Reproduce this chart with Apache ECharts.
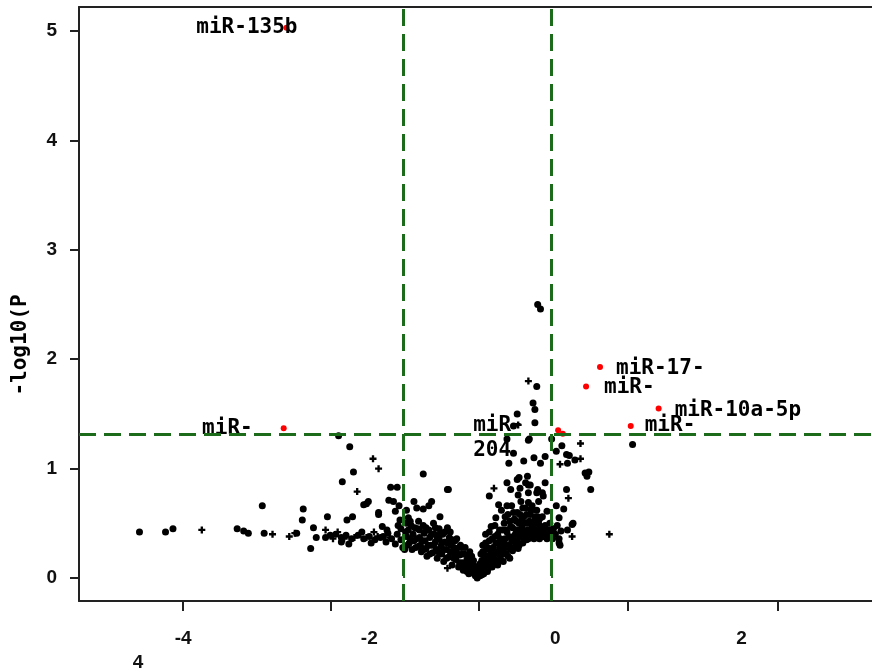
<!DOCTYPE html>
<html>
<head>
<meta charset="utf-8">
<script src="https://cdn.jsdelivr.net/npm/echarts@6/dist/echarts.min.js"></script>
<style>
html, body { margin: 0; padding: 0; background: #fff; }
#main { width: 872px; height: 672px; }
</style>
</head>
<body>
<div id="main"></div>
<script>
// axis ticks and labels
var xLabelValues = [-4, -2, 0, 2];
var xTickValues = [-4, -2.41, -0.82, 0.78, 2.39];
var yTickValues = [0, 1, 2, 3, 4, 5];
// cut-off lines
var cutX = [-1.63, -0.04];
var cutY = 1.31;

// not significant, drawn as dots
var dotPoints = [
  [-4.47,0.42],[-4.19,0.42],[-4.11,0.45],[-3.42,0.45],[-3.35,0.43],[-3.30,0.41],[-3.15,0.66],[-3.13,0.41],
  [-2.78,0.41],[-2.71,0.63],[-2.72,0.53],[-2.63,0.27],[-2.60,0.46],[-2.57,0.37],[-2.45,0.56],[-2.47,0.37],
  [-2.33,1.30],[-2.21,1.20],[-2.17,0.97],[-2.29,0.88],[-2.24,0.53],[-2.18,0.56],[-2.06,0.67],[-2.03,0.68],
  [-2.01,0.70],[-1.90,0.58],[-1.90,0.60],[-1.77,0.83],[-1.70,0.83],[-1.79,0.71],[-1.74,0.70],[-1.68,0.66],
  [-1.72,0.61],[-1.67,0.53],[-1.86,0.47],[-1.81,0.44],[-1.85,0.38],[-1.66,0.45],[-1.69,0.48],
  [-2.42,0.39],[-2.36,0.40],[-2.30,0.37],[-2.30,0.33],[-2.25,0.39],[-2.19,0.36],[-2.12,0.39],[-2.06,0.36],
  [-2.00,0.38],[-1.94,0.35],[-1.88,0.37],[-1.82,0.33],[-1.76,0.36],[-1.72,0.31],[-1.70,0.40],[-1.66,0.35],
  [-1.64,0.28],[-1.98,0.32],[-2.08,0.42],[-1.80,0.41],[-2.22,0.31],
  [-1.42,0.95],[-1.15,0.81],[-1.52,0.70],[-1.49,0.64],[-1.42,0.63],[-1.36,0.66],[-1.33,0.70],[-1.24,0.56],
  [-1.60,0.62],[-1.58,0.55],
  [-1.60,0.50],[-1.58,0.44],[-1.60,0.38],[-1.57,0.32],[-1.62,0.26],[-1.55,0.48],[-1.53,0.40],[-1.52,0.34],
  [-1.50,0.28],[-1.48,0.45],[-1.47,0.52],[-1.46,0.37],[-1.45,0.30],[-1.44,0.24],
  [-1.42,0.48],[-1.41,0.41],[-1.40,0.34],[-1.39,0.27],[-1.38,0.20],[-1.36,0.44],[-1.35,0.37],[-1.34,0.30],
  [-1.32,0.23],[-1.31,0.50],[-1.30,0.40],[-1.29,0.33],[-1.28,0.26],[-1.27,0.18],[-1.25,0.45],[-1.25,0.36],
  [-1.23,0.29],[-1.22,0.22],[-1.21,0.40],[-1.20,0.15],[-1.19,0.33],[-1.17,0.26],[-1.16,0.46],[-1.15,0.19],
  [-1.14,0.37],[-1.12,0.30],[-1.11,0.12],[-1.10,0.23],[-1.08,0.34],[-1.07,0.17],[-1.06,0.27],[-1.04,0.10],
  [-1.03,0.21],
  [-1.01,0.28],[-1.00,0.14],[-0.99,0.07],[-0.98,0.22],[-0.96,0.10],[-0.95,0.17],[-0.93,0.04],[-0.92,0.24],
  [-0.91,0.12],[-0.89,0.06],[-0.88,0.16],[-0.86,0.02],[-0.85,0.09],[-0.84,0.00],
  [-1.61,0.42],[-1.59,0.30],[-1.56,0.52],[-1.56,0.36],[-1.54,0.26],[-1.51,0.46],[-1.49,0.36],[-1.47,0.29],
  [-1.46,0.44],[-1.43,0.34],[-1.41,0.26],[-1.39,0.46],[-1.37,0.30],[-1.35,0.22],[-1.33,0.40],[-1.31,0.30],
  [-1.29,0.46],[-1.27,0.36],[-1.26,0.24],[-1.24,0.40],[-1.22,0.32],[-1.20,0.26],[-1.19,0.42],[-1.17,0.18],
  [-1.16,0.32],[-1.13,0.24],[-1.13,0.42],[-1.11,0.35],[-1.09,0.18],[-1.09,0.28],[-1.06,0.36],[-1.05,0.22],
  [-1.03,0.14],[-1.02,0.30],[-1.00,0.22],[-0.98,0.12],[-0.97,0.28],[-0.95,0.06],[-0.94,0.20],[-0.92,0.14],
  [-0.90,0.09],[-0.90,0.20],[-0.87,0.11],[-0.87,0.04],[-0.83,0.09],
  [-0.82,0.05],[-0.81,0.13],[-0.80,0.22],[-0.79,0.03],[-0.78,0.30],[-0.77,0.10],[-0.76,0.18],[-0.75,0.40],
  [-0.74,0.26],[-0.73,0.06],[-0.72,0.14],[-0.71,0.34],[-0.70,0.21],[-0.69,0.47],[-0.68,0.10],[-0.67,0.28],
  [-0.66,0.17],[-0.65,0.38],[-0.64,0.55],[-0.63,0.24],[-0.62,0.12],[-0.61,0.32],[-0.60,0.44],
  [-0.81,0.02],[-0.80,0.08],[-0.79,0.16],[-0.78,0.24],[-0.77,0.04],[-0.76,0.12],[-0.75,0.32],[-0.74,0.20],
  [-0.73,0.28],[-0.72,0.09],[-0.71,0.42],[-0.70,0.16],[-0.69,0.26],[-0.68,0.36],[-0.67,0.13],[-0.66,0.22],
  [-0.65,0.48],[-0.64,0.32],[-0.63,0.16],[-0.62,0.40],[-0.61,0.22],[-0.60,0.28],
  [-0.59,0.20],[-0.58,0.62],[-0.57,0.28],[-0.56,0.15],[-0.55,0.50],[-0.54,0.36],[-0.53,0.22],[-0.52,0.42],
  [-0.51,0.58],[-0.50,0.30],[-0.49,0.18],[-0.48,0.47],[-0.47,0.66],[-0.46,0.25],[-0.45,0.38],[-0.44,0.54],
  [-0.43,0.32],[-0.42,0.44],[-0.41,0.60],[-0.40,0.27],[-0.39,0.50],[-0.38,0.38],[-0.37,0.70],[-0.36,0.46],
  [-0.35,0.32],
  [-0.59,0.36],[-0.58,0.16],[-0.57,0.44],[-0.56,0.24],[-0.55,0.32],[-0.54,0.56],[-0.53,0.44],[-0.52,0.28],
  [-0.51,0.20],[-0.50,0.38],[-0.49,0.52],[-0.48,0.26],[-0.47,0.34],[-0.46,0.46],[-0.45,0.60],[-0.44,0.28],
  [-0.43,0.40],[-0.42,0.52],[-0.41,0.34],[-0.40,0.44],[-0.39,0.30],[-0.38,0.58],[-0.37,0.40],[-0.36,0.54],
  [-0.35,0.64],
  [-0.34,0.56],[-0.33,0.42],[-0.32,0.64],[-0.31,0.35],[-0.30,0.50],[-0.29,0.78],[-0.28,0.44],[-0.27,0.58],
  [-0.26,0.38],[-0.25,0.66],[-0.24,0.48],[-0.23,0.36],[-0.22,0.56],[-0.21,0.44],[-0.20,0.62],[-0.19,0.40],
  [-0.18,0.52],[-0.17,0.36],[-0.16,0.46],[-0.15,0.40],[-0.14,0.56],[-0.13,0.43],[-0.12,0.38],[-0.11,0.48],
  [-0.10,0.42],[-0.09,0.36],[-0.08,0.44],[-0.07,0.40],[-0.06,0.50],[-0.05,0.38],
  [-0.34,0.36],[-0.33,0.50],[-0.32,0.40],[-0.31,0.58],[-0.30,0.44],[-0.29,0.36],[-0.28,0.52],[-0.27,0.42],
  [-0.26,0.62],[-0.25,0.46],[-0.24,0.40],[-0.23,0.52],[-0.22,0.40],[-0.21,0.50],[-0.20,0.44],[-0.19,0.56],
  [-0.18,0.42],[-0.17,0.48],[-0.15,0.44],[-0.14,0.38],[-0.12,0.46],[-0.10,0.38],[-0.08,0.40],[-0.06,0.44],
  [-0.04,0.42],[-0.03,0.36],
  [-0.02,0.45],[0.00,0.40],[0.02,0.48],[0.04,0.36],[0.06,0.43],
  [-0.71,0.75],[-0.41,0.90],[-0.30,0.93],[-0.38,0.82],[-0.29,0.85],[-0.61,0.67],[-0.52,0.66],[-0.40,0.76],
  [-0.29,0.69],[-0.20,0.78],[-0.13,0.75],[-0.52,0.87],[-0.48,0.81],[-0.39,0.92],[-0.32,0.87],[-0.27,0.85],
  [-0.19,0.81],[-0.14,0.78],[-0.11,0.87],[-0.18,0.70],[-0.09,0.61],[0.01,0.66],[0.04,0.55],[-0.16,0.55],
  [-1.16,0.81],
  [-0.50,1.05],[-0.34,1.07],[-0.23,1.10],[-0.16,1.05],[-0.11,1.11],[-0.45,1.14],[-0.28,1.27],[-0.04,1.27],
  [-0.52,1.27],[-0.29,1.26],[-0.45,1.39],[-0.22,1.42],[-0.41,1.50],[-0.24,1.60],[-0.22,1.54],[-0.20,1.75],
  [-0.19,2.50],[-0.16,2.46],
  [0.07,1.21],[0.01,1.16],[0.12,1.13],[0.15,1.12],[0.21,1.08],[0.13,1.05],[0.32,0.96],[0.36,0.97],
  [0.34,0.93],[0.38,0.81],[0.12,0.81],[0.09,0.63],[0.19,0.50],[0.13,0.44],[0.04,0.32],[0.18,0.49],
  [0.05,0.30],[0.83,1.22]
];

// not significant, drawn as plus signs
var plusPoints = [
  [-3.80,0.44],[-3.04,0.40],[-2.86,0.38],[-2.80,0.41],[-2.47,0.44],[-1.96,1.09],[-1.90,1.00],[-2.13,0.79],
  [-2.39,0.36],[-2.27,0.36],[-2.16,0.37],[-2.03,0.37],[-1.91,0.38],[-1.78,0.37],[-2.34,0.42],[-1.95,0.42],
  [-1.16,0.09],[-0.66,0.82],[-0.29,1.80],[-0.40,1.40],
  [0.27,1.23],[0.05,1.04],[0.14,0.73],[0.18,0.38],[0.58,0.40],[0.27,1.09]
];

// significant miRNAs (red)
var sigPoints = [
  [-2.89,5.03],[-2.92,1.37],[0.03,1.35],[0.08,1.32],[0.48,1.93],[0.33,1.75],[1.11,1.55],[0.81,1.39]
];
var sigNames = ['miR-135b', 'miR-', 'miR-\n204', '', 'miR-17-', 'miR-', 'miR-10a-5p', 'miR-'];

var labelFont = 'DejaVu Sans Mono';
var tickFont = 'Liberation Sans';
var green = '#1b6b1b';
var ink = '#222';

// where each name sits relative to its point
var sigLabelPlace = [
  { align: 'right', offset: [11, 0] },
  { align: 'right', offset: [-31, 0] },
  { align: 'left', offset: [-85, 8] },
  { align: 'left', offset: [0, 0] },
  { align: 'left', offset: [16, 2] },
  { align: 'left', offset: [18, 1] },
  { align: 'left', offset: [16, 2] },
  { align: 'left', offset: [14, 0] }
];

var sigData = sigPoints.map(function (p, i) {
  return {
    value: p,
    name: sigNames[i],
    label: {
      show: sigNames[i] !== '',
      position: 'inside',
      align: sigLabelPlace[i].align,
      offset: sigLabelPlace[i].offset
    }
  };
});

var plusPath = 'path://M2,0H4V2H6V4H4V6H2V4H0V2H2Z';
var xMin = -5.12, xMax = 3.5;

var myChart = echarts.init(document.getElementById('main'));
var option = {
  backgroundColor: '#fff',
  animation: false,
  grid: { left: 79, top: 7, width: 802, height: 594, outerBoundsMode: 'none', containLabel: false },
  xAxis: [{
    type: 'value',
    min: xMin, max: xMax,
    position: 'bottom',
    axisLine: { show: true, onZero: false, lineStyle: { color: ink, width: 2 } },
    axisTick: { show: true, customValues: xTickValues, length: 10, lineStyle: { color: ink, width: 2 } },
    axisLabel: {
      customValues: xLabelValues, margin: 28,
      fontFamily: tickFont, fontWeight: 'bold', fontSize: 19, color: '#111'
    },
    splitLine: { show: false }
  }, {
    // green marks for the cut-offs on the x axis
    type: 'value',
    min: xMin, max: xMax,
    position: 'bottom',
    axisLine: { show: false },
    axisTick: { show: true, inside: true, customValues: cutX, length: 10, lineStyle: { color: green, width: 2 } },
    axisLabel: { show: false },
    splitLine: { show: false }
  }, {
    // top frame line
    type: 'value',
    min: xMin, max: xMax,
    position: 'top',
    axisLine: { show: true, onZero: false, lineStyle: { color: ink, width: 2 } },
    axisTick: { show: false },
    axisLabel: { show: false },
    splitLine: { show: false }
  }],
  yAxis: {
    type: 'value',
    min: -0.21, max: 5.22,
    axisLine: { show: true, onZero: false, lineStyle: { color: ink, width: 2 } },
    axisTick: { show: true, customValues: yTickValues, length: 9, lineStyle: { color: ink, width: 2 } },
    axisLabel: {
      customValues: yTickValues, margin: 22,
      fontFamily: tickFont, fontWeight: 'bold', fontSize: 19, color: '#111'
    },
    splitLine: { show: false }
  },
  graphic: [{
    type: 'text',
    x: 21, y: 345,
    rotation: Math.PI / 2,
    style: {
      text: '-log10(P',
      font: 'bold 21px "DejaVu Sans Mono"',
      fill: '#000',
      align: 'center',
      verticalAlign: 'middle'
    }
  }, {
    type: 'text',
    x: 138, y: 663,
    style: {
      text: '4',
      font: 'bold 19px "Liberation Sans"',
      fill: '#111',
      align: 'center',
      verticalAlign: 'middle'
    }
  }],
  series: [{
    name: 'dots',
    type: 'scatter',
    data: dotPoints,
    symbol: 'circle',
    symbolSize: 7,
    itemStyle: { color: '#000', opacity: 1 },
    z: 2
  }, {
    name: 'plus',
    type: 'scatter',
    data: plusPoints,
    symbol: plusPath,
    symbolSize: 7,
    itemStyle: { color: '#000', opacity: 1 },
    z: 2
  }, {
    name: 'cutoff',
    type: 'line',
    data: [],
    z: 3,
    markLine: {
      silent: true,
      symbol: ['none', 'none'],
      label: { show: false },
      lineStyle: { color: green, width: 3, type: [17, 8], opacity: 1 },
      data: [{ xAxis: cutX[0] }, { xAxis: cutX[1] }, { yAxis: cutY }]
    }
  }, {
    name: 'sig',
    type: 'scatter',
    data: sigData,
    symbol: 'circle',
    symbolSize: 6,
    itemStyle: { color: '#ff0000', opacity: 1 },
    label: {
      color: '#000',
      textBorderWidth: 0,
      fontFamily: labelFont,
      fontWeight: 'bold',
      fontSize: 21,
      lineHeight: 25,
      formatter: '{b}'
    },
    z: 4
  }]
};
myChart.setOption(option);
</script>
</body>
</html>
